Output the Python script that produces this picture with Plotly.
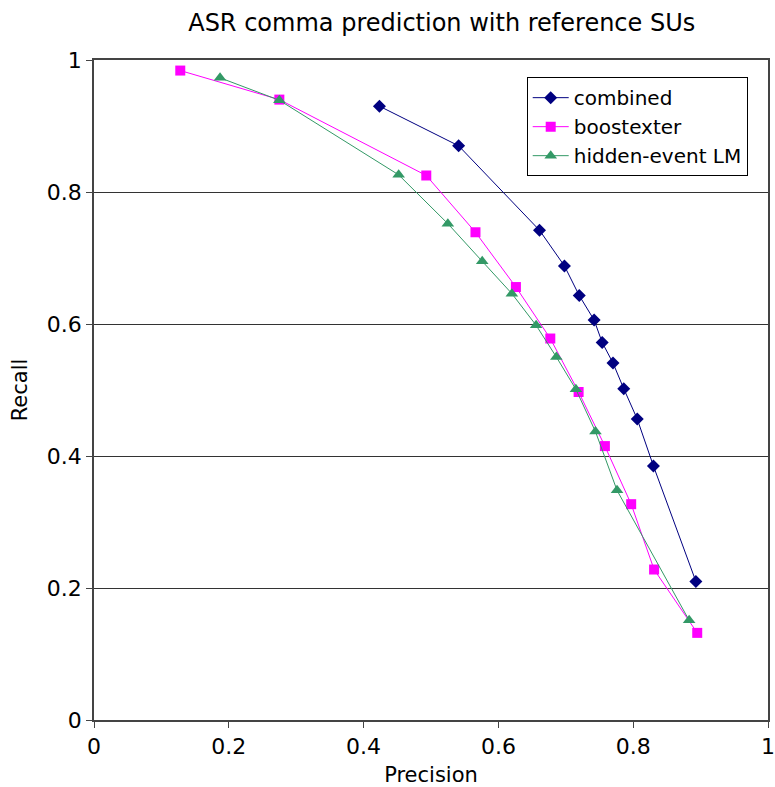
import plotly.graph_objects as go

combined_p = [0.4235, 0.541, 0.661, 0.698, 0.720, 0.742, 0.754, 0.770, 0.786, 0.806, 0.830, 0.893]
combined_r = [0.930, 0.870, 0.742, 0.688, 0.643, 0.606, 0.572, 0.541, 0.502, 0.456, 0.385, 0.210]

boost_p = [0.128, 0.275, 0.493, 0.566, 0.626, 0.677, 0.719, 0.758, 0.797, 0.831, 0.895]
boost_r = [0.984, 0.940, 0.825, 0.739, 0.656, 0.578, 0.497, 0.415, 0.327, 0.228, 0.132]

hidden_p = [0.187, 0.275, 0.452, 0.525, 0.576, 0.620, 0.656, 0.686, 0.715, 0.744, 0.776, 0.883]
hidden_r = [0.973, 0.939, 0.826, 0.752, 0.695, 0.646, 0.598, 0.550, 0.501, 0.437, 0.348, 0.151]

x_ticks = [0, 0.2, 0.4, 0.6, 0.8, 1]
x_labels = ["0", "0.2", "0.4", "0.6", "0.8", "1"]
y_ticks = [0, 0.2, 0.4, 0.6, 0.8, 1]
y_labels = ["0", "0.2", "0.4", "0.6", "0.8", "1"]

fig = go.Figure()
fig.add_trace(go.Scatter(x=combined_p, y=combined_r, mode="lines+markers", name="combined",
                         line=dict(color="#000080", width=1),
                         marker=dict(symbol="diamond", size=10, color="#000080")))
fig.add_trace(go.Scatter(x=boost_p, y=boost_r, mode="lines+markers", name="boostexter",
                         line=dict(color="#FF00FF", width=1),
                         marker=dict(symbol="square", size=10, color="#FF00FF")))
fig.add_trace(go.Scatter(x=hidden_p, y=hidden_r, mode="lines+markers", name="hidden-event LM",
                         line=dict(color="#339966", width=1),
                         marker=dict(symbol="triangle-up", size=11, color="#339966")))

font = "DejaVu Sans"
fig.update_layout(
    width=775, height=787,
    margin=dict(l=94, r=7, t=60, b=67),
    paper_bgcolor="white", plot_bgcolor="white",
    font=dict(family=font, color="black", size=22),
    title=dict(text="ASR comma prediction with reference SUs", x=0.570, xanchor="center",
               y=1 - 23 / 787, yanchor="middle", font=dict(family=font, size=24, color="black")),
    showlegend=True,
    legend=dict(x=0.642, y=0.974, xanchor="left", yanchor="top",
                bgcolor="white", bordercolor="black", borderwidth=1,
                font=dict(family=font, size=20, color="black"),
                tracegroupgap=0, itemwidth=36),
    xaxis=dict(range=[0, 1], tickvals=x_ticks, ticktext=x_labels, showgrid=False,
               zeroline=False, showline=True, linecolor="#444", linewidth=1.5, mirror=True,
               ticks="outside", ticklen=6, tickcolor="#444", automargin=False,
               tickfont=dict(size=22),
               title=dict(text="Precision", font=dict(size=21), standoff=12)),
    yaxis=dict(range=[0, 1], tickvals=y_ticks, ticktext=y_labels, showgrid=True,
               gridcolor="#333", gridwidth=1, zeroline=False, showline=True,
               linecolor="#444", linewidth=1.5, mirror=True,
               ticks="outside", ticklen=6, tickcolor="#444", automargin=False,
               tickfont=dict(size=22),
               title=dict(text="Recall", font=dict(size=21), standoff=13)),
)

fig.write_html("out.html")
